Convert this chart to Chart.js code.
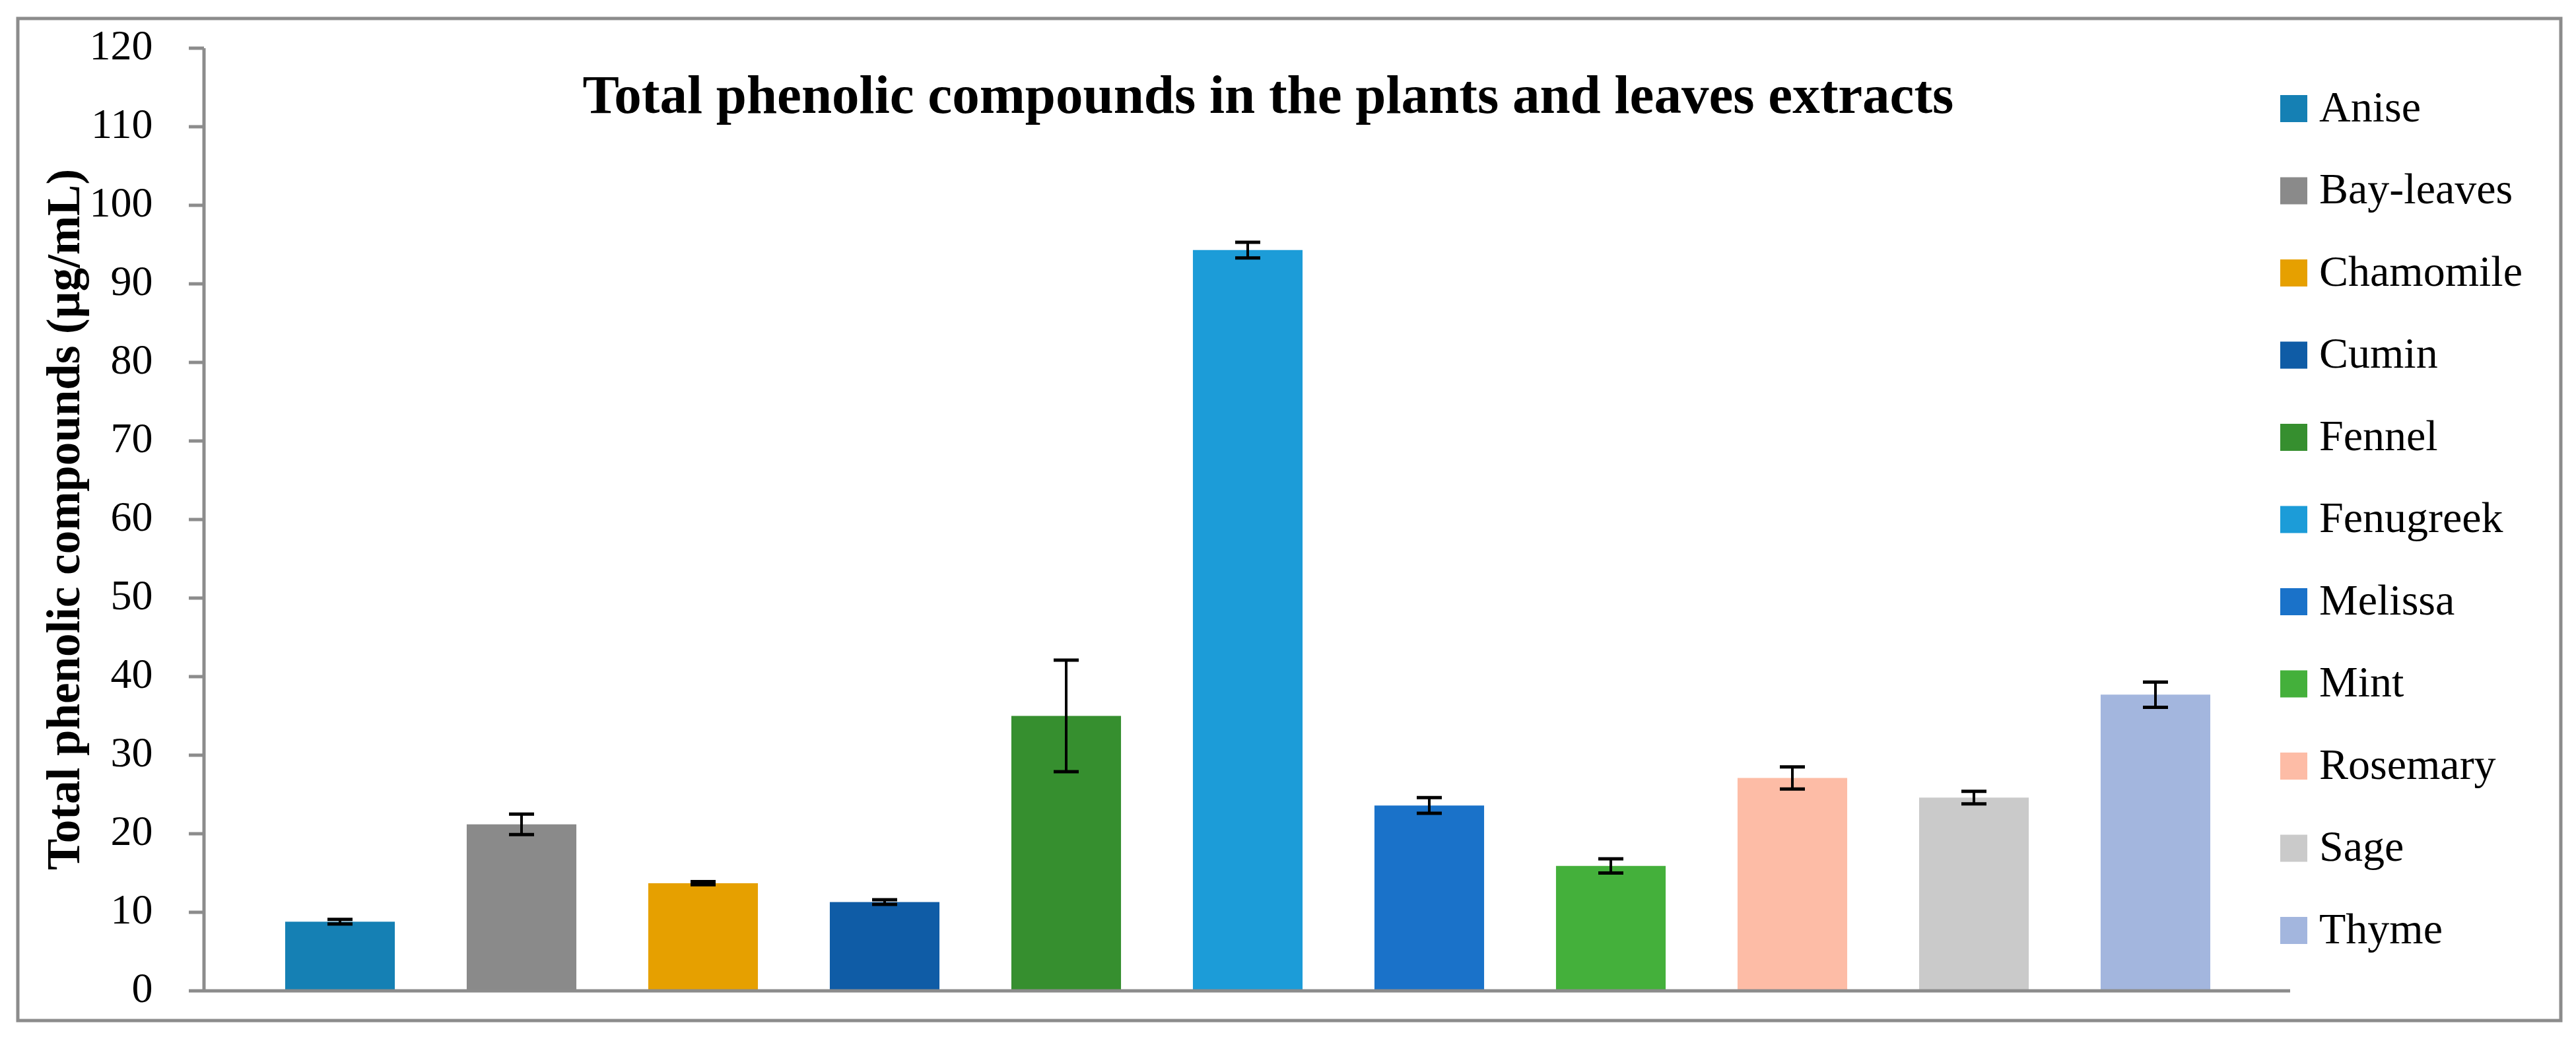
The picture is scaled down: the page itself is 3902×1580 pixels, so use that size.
<!DOCTYPE html>
<html><head><meta charset="utf-8">
<script src="https://cdn.jsdelivr.net/npm/chart.js@4"></script>
<style>html,body{margin:0;padding:0;background:#fff}</style>
</head><body>
<canvas id="c" width="3902" height="1580" style="width:3902px;height:1580px"></canvas>
<script>
const categories = ["Anise","Bay-leaves","Chamomile","Cumin","Fennel","Fenugreek","Melissa","Mint","Rosemary","Sage","Thyme"];
const values = [8.8,21.2,13.7,11.3,35.0,94.3,23.6,15.9,27.1,24.6,37.7];
const errors = [0.3,1.3,0.2,0.3,7.1,1.0,1.0,0.9,1.4,0.8,1.6];
const colors = ["#1580b4","#8a8a8a","#e6a000","#0f5ca6","#368f2f","#1c9cd8","#1a72c9","#44b03b","#fdbca6","#cacaca","#a3b6de"];
const yTicks = [0,10,20,30,40,50,60,70,80,90,100,110,120];

const SERIF = "'Liberation Serif','DejaVu Serif',serif";
const GRAY = "#8c8c8c";

const decor = {
  id:'decor',
  beforeDraw(chart){
    const ctx = chart.ctx;
    ctx.save();
    ctx.fillStyle='#fff'; ctx.fillRect(0,0,chart.width,chart.height);
    ctx.strokeStyle=GRAY; ctx.lineWidth=5;
    ctx.strokeRect(27,28,3879-27,1546-28);
    ctx.restore();
  },
  afterDatasetsDraw(chart){
    const ctx = chart.ctx, y = chart.scales.y;
    ctx.save();
    ctx.strokeStyle=GRAY; ctx.lineWidth=5;
    const y0 = y.getPixelForValue(0), yTop = y.getPixelForValue(120);
    ctx.beginPath();
    ctx.moveTo(309,yTop); ctx.lineTo(309,y0+2.5);
    ctx.moveTo(286,y0); ctx.lineTo(3469,y0);
    yTicks.forEach(t=>{const p=y.getPixelForValue(t); ctx.moveTo(286,p); ctx.lineTo(309,p);});
    ctx.stroke();
    ctx.strokeStyle='#000';
    const meta = chart.getDatasetMeta(0);
    meta.data.forEach((bar,i)=>{
      const cx = bar.x, hi = y.getPixelForValue(values[i]+errors[i]), lo = y.getPixelForValue(values[i]-errors[i]);
      ctx.lineWidth=4;
      ctx.beginPath(); ctx.moveTo(cx,hi); ctx.lineTo(cx,lo); ctx.stroke();
      ctx.lineWidth=5;
      ctx.beginPath(); ctx.moveTo(cx-19,hi); ctx.lineTo(cx+19,hi); ctx.moveTo(cx-19,lo); ctx.lineTo(cx+19,lo); ctx.stroke();
    });
    ctx.fillStyle='#000'; ctx.textAlign='center'; ctx.textBaseline='middle';
    ctx.font="bold 83px "+SERIF;
    ctx.fillText("Total phenolic compounds in the plants and leaves extracts",1921,150);
    ctx.textAlign='left';
    ctx.font="66px "+SERIF;
    categories.forEach((c,i)=>{
      const cy = 164.5 + i*124.5;
      ctx.fillStyle=colors[i]; ctx.fillRect(3454,cy-20.5,41,41);
      ctx.fillStyle='#000'; ctx.fillText(c,3513,cy+2);
    });
    ctx.restore();
  }
};

new Chart(document.getElementById('c'),{
  type:'bar',
  data:{labels:categories,datasets:[{data:values,backgroundColor:colors,barPercentage:0.604,categoryPercentage:1,borderWidth:0}]},
  options:{
    responsive:false, animation:false, devicePixelRatio:1,
    layout:{padding:{left:59,top:73,right:499.5,bottom:79}},
    plugins:{legend:{display:false},tooltip:{enabled:false},title:{display:false}},
    scales:{
      x:{display:false},
      y:{min:0,max:120,
        afterBuildTicks(s){s.ticks=yTicks.map(v=>({value:v}));},
        afterFit(s){s.width=318.5; s.paddingTop=0; s.paddingBottom=0;},
        grid:{display:false},border:{display:false},
        ticks:{padding:138,color:'#000',font:{family:SERIF,size:64}},
        title:{display:true,text:"Total phenolic compounds (µg/mL)",color:'#000',font:{family:SERIF,size:71,weight:'bold'},padding:{top:0,bottom:4}}
      }
    }
  },
  plugins:[decor]
});
</script>
</body></html>
